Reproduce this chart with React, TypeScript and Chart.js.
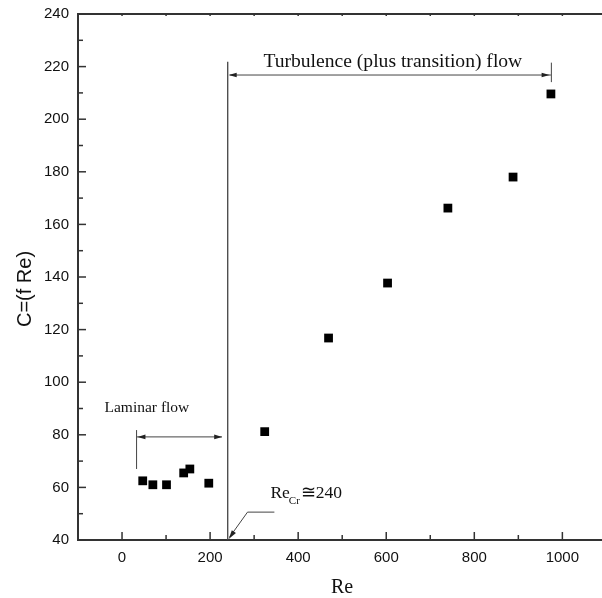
import React, { useEffect, useRef } from "react";
import { Chart, registerables } from "chart.js";

Chart.register(...registerables);

// Data
const reValues = [47, 70, 101, 140, 154, 197, 324, 469, 603, 740, 888, 974];
const cValues = [62.5, 61, 61, 65.5, 67, 61.6, 81.2, 116.8, 137.7, 166.2, 178, 209.6];
const xTickValues = [0, 200, 400, 600, 800, 1000];
const reCritical = 240;

const SERIF = '"Liberation Serif", "Times New Roman", serif';
const SANS = '"Liberation Sans", Arial, sans-serif';
const AXIS_COLOR = "#333";

function line(ctx: CanvasRenderingContext2D, x1: number, y1: number, x2: number, y2: number) {
  ctx.beginPath();
  ctx.moveTo(x1, y1);
  ctx.lineTo(x2, y2);
  ctx.stroke();
}

function arrowHead(ctx: CanvasRenderingContext2D, fx: number, fy: number, tx: number, ty: number, len = 8, half = 2.3) {
  const ang = Math.atan2(ty - fy, tx - fx);
  ctx.beginPath();
  ctx.moveTo(tx, ty);
  ctx.lineTo(tx - len * Math.cos(ang) + half * Math.sin(ang), ty - len * Math.sin(ang) - half * Math.cos(ang));
  ctx.lineTo(tx - len * Math.cos(ang) - half * Math.sin(ang), ty - len * Math.sin(ang) + half * Math.cos(ang));
  ctx.closePath();
  ctx.fill();
}

const decorPlugin = {
  id: "decor",
  afterDraw(chart: any) {
    const { ctx, chartArea: a, scales } = chart;
    const xs = scales.x;
    const ys = scales.y;
    const X = (v: number) => xs.getPixelForValue(v);
    const Y = (v: number) => ys.getPixelForValue(v);
    ctx.save();

    // frame
    ctx.strokeStyle = AXIS_COLOR;
    ctx.lineWidth = 2;
    line(ctx, a.left, a.top - 1, a.left, a.bottom + 1);
    line(ctx, a.left - 1, a.bottom, a.right, a.bottom);
    line(ctx, a.left - 1, a.top, a.right, a.top);

    // y ticks (inward)
    ctx.lineWidth = 1.5;
    for (let v = 40; v <= 240; v += 10) {
      const len = v % 20 === 0 ? 8 : 5;
      line(ctx, a.left, Y(v), a.left + len, Y(v));
    }
    // x ticks bottom (inward) and top
    for (let v = 0; v <= 1000; v += 100) {
      const len = v % 200 === 0 ? 8 : 5;
      line(ctx, X(v), a.bottom, X(v), a.bottom - len);
      line(ctx, X(v), a.top, X(v), a.top + 2);
    }

    // annotations
    ctx.strokeStyle = "#444";
    ctx.fillStyle = "#222";
    ctx.lineWidth = 1.3;
    // critical Re vertical line
    line(ctx, X(reCritical), Y(221.8), X(reCritical), a.bottom);
    // turbulence arrow
    ctx.lineWidth = 1;
    line(ctx, X(reCritical) + 2, Y(216.8), X(974), Y(216.8));
    arrowHead(ctx, X(reCritical) + 20, Y(216.8), X(reCritical) + 1, Y(216.8));
    arrowHead(ctx, X(950), Y(216.8), X(971), Y(216.8));
    line(ctx, X(975), Y(221.5), X(975), Y(214.1));
    // laminar arrow
    line(ctx, X(33), Y(81.8), X(33), Y(67));
    line(ctx, X(34), Y(79.2), X(227), Y(79.2));
    arrowHead(ctx, X(60), Y(79.2), X(35), Y(79.2));
    arrowHead(ctx, X(200), Y(79.2), X(227.5), Y(79.2));
    // Re_cr leader
    line(ctx, X(285), Y(50.6), X(346), Y(50.6));
    line(ctx, X(285), Y(50.6), X(reCritical) + 2, Y(40) - 3);
    arrowHead(ctx, X(285), Y(50.6), X(reCritical) + 1, Y(40) - 1, 9, 2.5);

    // texts
    ctx.fillStyle = "#111";
    ctx.textBaseline = "alphabetic";
    ctx.textAlign = "center";
    ctx.font = `19.6px ${SERIF}`;
    ctx.fillText("Turbulence (plus transition) flow", X(615), Y(220));
    ctx.font = `15.5px ${SERIF}`;
    ctx.fillText("Laminar flow", X(56.5), Y(88.7));

    ctx.textAlign = "left";
    let tx = X(337);
    const ty = Y(55.9);
    ctx.font = `17.5px ${SERIF}`;
    ctx.fillText("Re", tx, ty);
    tx += ctx.measureText("Re").width - 1;
    ctx.font = `11px ${SERIF}`;
    ctx.fillText("Cr", tx, ty + 6);
    tx += ctx.measureText("Cr").width + 1;
    ctx.font = `17.5px ${SERIF}`;
    ctx.fillText("\u2245240", tx, ty);

    // axis titles
    ctx.textAlign = "center";
    ctx.font = `20px ${SERIF}`;
    ctx.fillText("Re", 342, 593);
    ctx.save();
    ctx.translate(25, 289);
    ctx.rotate(-Math.PI / 2);
    ctx.textBaseline = "middle";
    ctx.font = `20px ${SANS}`;
    ctx.fillText("C=(f Re)", 0, 0);
    ctx.restore();

    ctx.restore();
  },
};

export default function App() {
  const ref = useRef<HTMLCanvasElement>(null);
  useEffect(() => {
    if (!ref.current) return;
    const chart = new Chart(ref.current, {
      type: "scatter",
      data: {
        datasets: [
          {
            data: reValues.map((x, i) => ({ x, y: cValues[i] })),
            pointStyle: "rect",
            pointRadius: 6.2,
            pointBorderWidth: 0,
            backgroundColor: "#000",
            borderColor: "#000",
          },
        ],
      },
      options: {
        responsive: false,
        animation: false,
        layout: { autoPadding: false, padding: { top: 14, left: 0, right: 0, bottom: 0 } },
        plugins: { legend: { display: false }, tooltip: { enabled: false } },
        scales: {
          x: {
            type: "linear",
            min: -100,
            max: 1090,
            grid: { display: false, drawTicks: false },
            border: { display: false },
            ticks: {
              font: { family: SANS, size: 15 },
              color: "#111",
              padding: 9,
              maxRotation: 0,
              callback: (v: any) => String(v),
            },
            afterBuildTicks: (s: any) => {
              s.ticks = xTickValues.map((v) => ({ value: v }));
            },
            afterFit: (s: any) => {
              s.height = 58;
              s.paddingLeft = 0;
              s.paddingRight = 0;
            },
          },
          y: {
            type: "linear",
            min: 40,
            max: 240,
            grid: { display: false, drawTicks: false },
            border: { display: false },
            ticks: { stepSize: 20, font: { family: SANS, size: 15 }, color: "#111", padding: 9 },
            afterFit: (s: any) => {
              s.width = 78;
              s.paddingTop = 0;
              s.paddingBottom = 0;
            },
          },
        },
      },
      plugins: [decorPlugin],
    });
    return () => chart.destroy();
  }, []);
  return (
    <div style={{ position: "fixed", left: 0, top: 0, width: 602, height: 598, overflow: "hidden", background: "#fff" }}>
      <canvas ref={ref} width={602} height={598} style={{ display: "block" }} />
    </div>
  );
}
